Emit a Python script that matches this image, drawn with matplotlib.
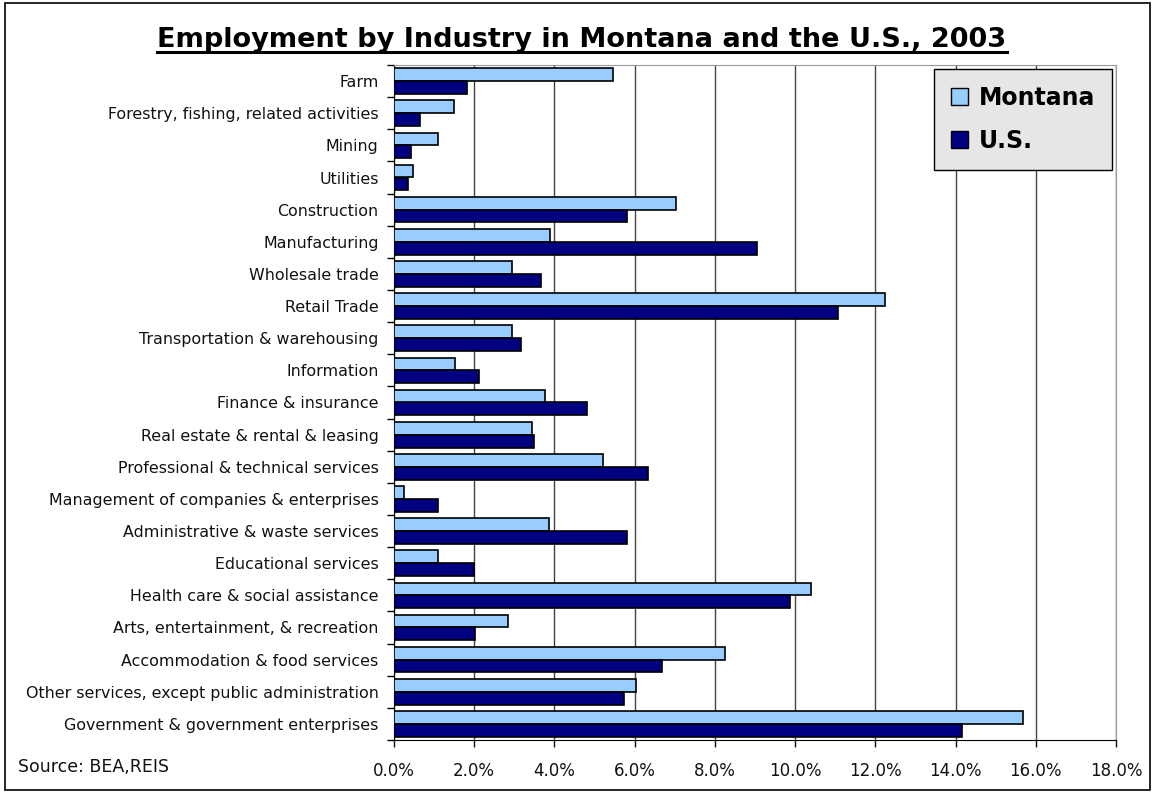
import matplotlib
matplotlib.use("Agg")
import matplotlib.pyplot as plt
import numpy as np
from matplotlib.lines import Line2D
from matplotlib.patches import Rectangle, Patch
from matplotlib.ticker import FuncFormatter, MultipleLocator

categories = [
    "Farm",
    "Forestry, fishing, related activities",
    "Mining",
    "Utilities",
    "Construction",
    "Manufacturing",
    "Wholesale trade",
    "Retail Trade",
    "Transportation & warehousing",
    "Information",
    "Finance & insurance",
    "Real estate & rental & leasing",
    "Professional & technical services",
    "Management of companies & enterprises",
    "Administrative & waste services",
    "Educational services",
    "Health care & social assistance",
    "Arts, entertainment, & recreation",
    "Accommodation & food services",
    "Other services, except public administration",
    "Government & government enterprises",
]

# share of total employment, percent
montana = [5.47, 1.49, 1.10, 0.48, 7.02, 3.90, 2.95, 12.24, 2.95, 1.52, 3.77,
           3.45, 5.21, 0.25, 3.87, 1.10, 10.40, 2.84, 8.26, 6.04, 15.68]
us = [1.81, 0.65, 0.43, 0.36, 5.81, 9.04, 3.67, 11.06, 3.17, 2.12, 4.81,
      3.48, 6.34, 1.09, 5.80, 2.00, 9.88, 2.03, 6.68, 5.74, 14.16]

series_names = ["Montana", "U.S."]
mt_color = "#99CCFF"
us_color = "#000080"

W, H = 1154, 793
fig = plt.figure(figsize=(W / 100, H / 100), dpi=100)
plt.rcParams['font.family'] = ['DejaVu Sans']

ax = fig.add_axes([394 / W, 1 - 740 / H, (1116 - 394) / W, (740 - 65) / H])

n = len(categories)
y = np.arange(n)
h = 0.4
ax.barh(y - h / 2, montana, height=h, color=mt_color, edgecolor="black", linewidth=1.2, zorder=3)
ax.barh(y + h / 2, us, height=h, color=us_color, edgecolor="black", linewidth=1.2, zorder=3)

ax.set_ylim(n - 0.5, -0.5)
ax.set_xlim(0, 18)
ax.xaxis.set_major_locator(MultipleLocator(2))
ax.xaxis.set_major_formatter(FuncFormatter(lambda v, p: f"{v:.1f}%"))
ax.grid(axis="x", color="#444444", linewidth=1, zorder=0)

ax.set_yticks(y)
ax.set_yticklabels(categories)
ax.set_yticks(np.arange(n + 1) - 0.5, minor=True)
ax.tick_params(axis="y", which="major", length=0, pad=11, labelsize=11.4, colors="#111111")
ax.tick_params(axis="y", which="minor", length=5, width=1, direction="out")
ax.tick_params(axis="x", length=5, width=1, direction="out", pad=11, labelsize=12, colors="#111111")

for side in ("top", "right"):
    ax.spines[side].set_color("#999999")
for side in ("left", "bottom"):
    ax.spines[side].set_color("black")

leg = ax.legend(
    handles=[Patch(facecolor=mt_color, edgecolor="black"), Patch(facecolor=us_color, edgecolor="black")],
    labels=series_names,
    loc="upper right",
    bbox_to_anchor=(1112 / W, 1 - 69 / H),
    bbox_transform=fig.transFigure,
    prop={"weight": "bold", "size": 17},
    frameon=True, fancybox=False, framealpha=1,
    facecolor="#E6E6E6", edgecolor="black",
    handlelength=0.7, handleheight=0.7, handletextpad=0.45,
    labelspacing=0.8, borderpad=0.72, borderaxespad=0,
)
leg.get_frame().set_linewidth(1)

title = fig.text(582 / W, 1 - 47 / H, "Employment by Industry in Montana and the U.S., 2003",
                 ha="center", va="baseline", fontsize=19.5, fontweight="bold")
fig.text(18 / W, 1 - 767 / H, "Source: BEA,REIS", ha="left", va="center", fontsize=12.5, color="#111111")

# underline the title
fig.canvas.draw()
bb = title.get_window_extent().transformed(fig.transFigure.inverted())
uy = 1 - 52 / H
fig.add_artist(Line2D([bb.x0, bb.x1], [uy, uy], color="black", linewidth=2.2, transform=fig.transFigure))

# chart border
fig.add_artist(Rectangle((5 / W, 3 / H), 1145 / W, 787 / H, fill=False, edgecolor="black",
                         linewidth=1.2, transform=fig.transFigure))

fig.savefig("out.png", dpi=100)
